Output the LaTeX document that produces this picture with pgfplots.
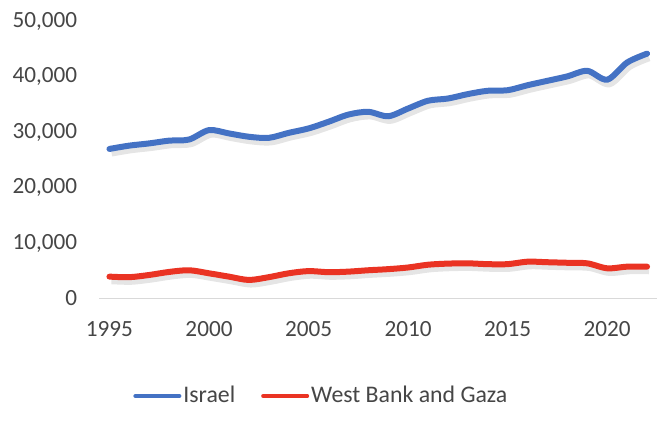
\documentclass[border=0pt]{standalone}
\usepackage{fontspec}
\setmainfont{Carlito}
\usepackage{pgfplots}
\usepackage{pgfplotstable}
\pgfplotsset{compat=1.18}
\definecolor{isr}{RGB}{68,114,196}
\definecolor{wbg}{RGB}{234,51,35}
\definecolor{txt}{RGB}{70,70,70}
\definecolor{base}{RGB}{217,217,217}
\pgfplotstableread{
year israel wbg
1995 27000 3950
1996 27600 3850
1997 28000 4250
1998 28500 4800
1999 28700 5100
2000 30400 4550
2001 29800 3950
2002 29200 3350
2003 29000 3850
2004 29900 4550
2005 30700 4950
2006 31900 4750
2007 33200 4850
2008 33700 5100
2009 32900 5300
2010 34300 5600
2011 35700 6100
2012 36100 6300
2013 36900 6350
2014 37500 6200
2015 37600 6200
2016 38500 6650
2017 39300 6550
2018 40100 6450
2019 41100 6350
2020 39500 5450
2021 42600 5750
2022 44200 5750
}\datatable
\begin{document}
\begin{tikzpicture}
\begin{axis}[
  scale only axis, width=278.75pt, height=138.5pt,
  xmin=1994.5, xmax=2022.5, ymin=0, ymax=50000,
  xtick={1995,2000,...,2020}, ytick={0,10000,...,50000},
  separate axis lines,
  axis x line*=bottom, axis y line*=left,
  x axis line style={draw=base, line width=0.6pt, -},
  y axis line style={draw=none, -},
  major tick length=0pt,
  tick style={draw=none},
  scaled ticks=false,
  /pgf/number format/assume math mode=true,
  ticklabel style={font=\fontsize{11.6}{13}\selectfont, text=txt, inner sep=0pt},
  yticklabel style={anchor=east, xshift=-11pt, /pgf/number format/1000 sep={,}},
  xticklabel style={anchor=north, yshift=-11.5pt, /pgf/number format/1000 sep={}},
  legend style={at={(axis description cs:0.398,-0.352)}, anchor=center, draw=none,
    font=\fontsize{11.9}{13}\selectfont, text=txt, inner sep=0pt,
    /tikz/every even column/.append style={column sep=12pt},
    nodes={inner sep=1pt}},
  legend columns=2,
  legend image code/.code={\draw[#1, line width=2pt] (0pt,0pt) -- (22pt,0pt);},
]
\addplot[forget plot, draw=black, opacity=0.10, line width=4pt, smooth, xshift=1pt, yshift=-1.8pt] table[x=year, y=israel] {\datatable};
\addplot[forget plot, draw=black, opacity=0.10, line width=4pt, smooth, xshift=1pt, yshift=-1.8pt] table[x=year, y=wbg] {\datatable};
\addplot[isr, line width=3pt, smooth, line cap=round] table[x=year, y=israel] {\datatable};
\addlegendentry{Israel}
\addplot[wbg, line width=3pt, smooth, line cap=round] table[x=year, y=wbg] {\datatable};
\addlegendentry{West Bank and Gaza}
\end{axis}
\pgfresetboundingbox
\path (current axis.south west) ++(-49.75pt,-60.75pt) rectangle ++(332pt,210pt);
\end{tikzpicture}
\end{document}
